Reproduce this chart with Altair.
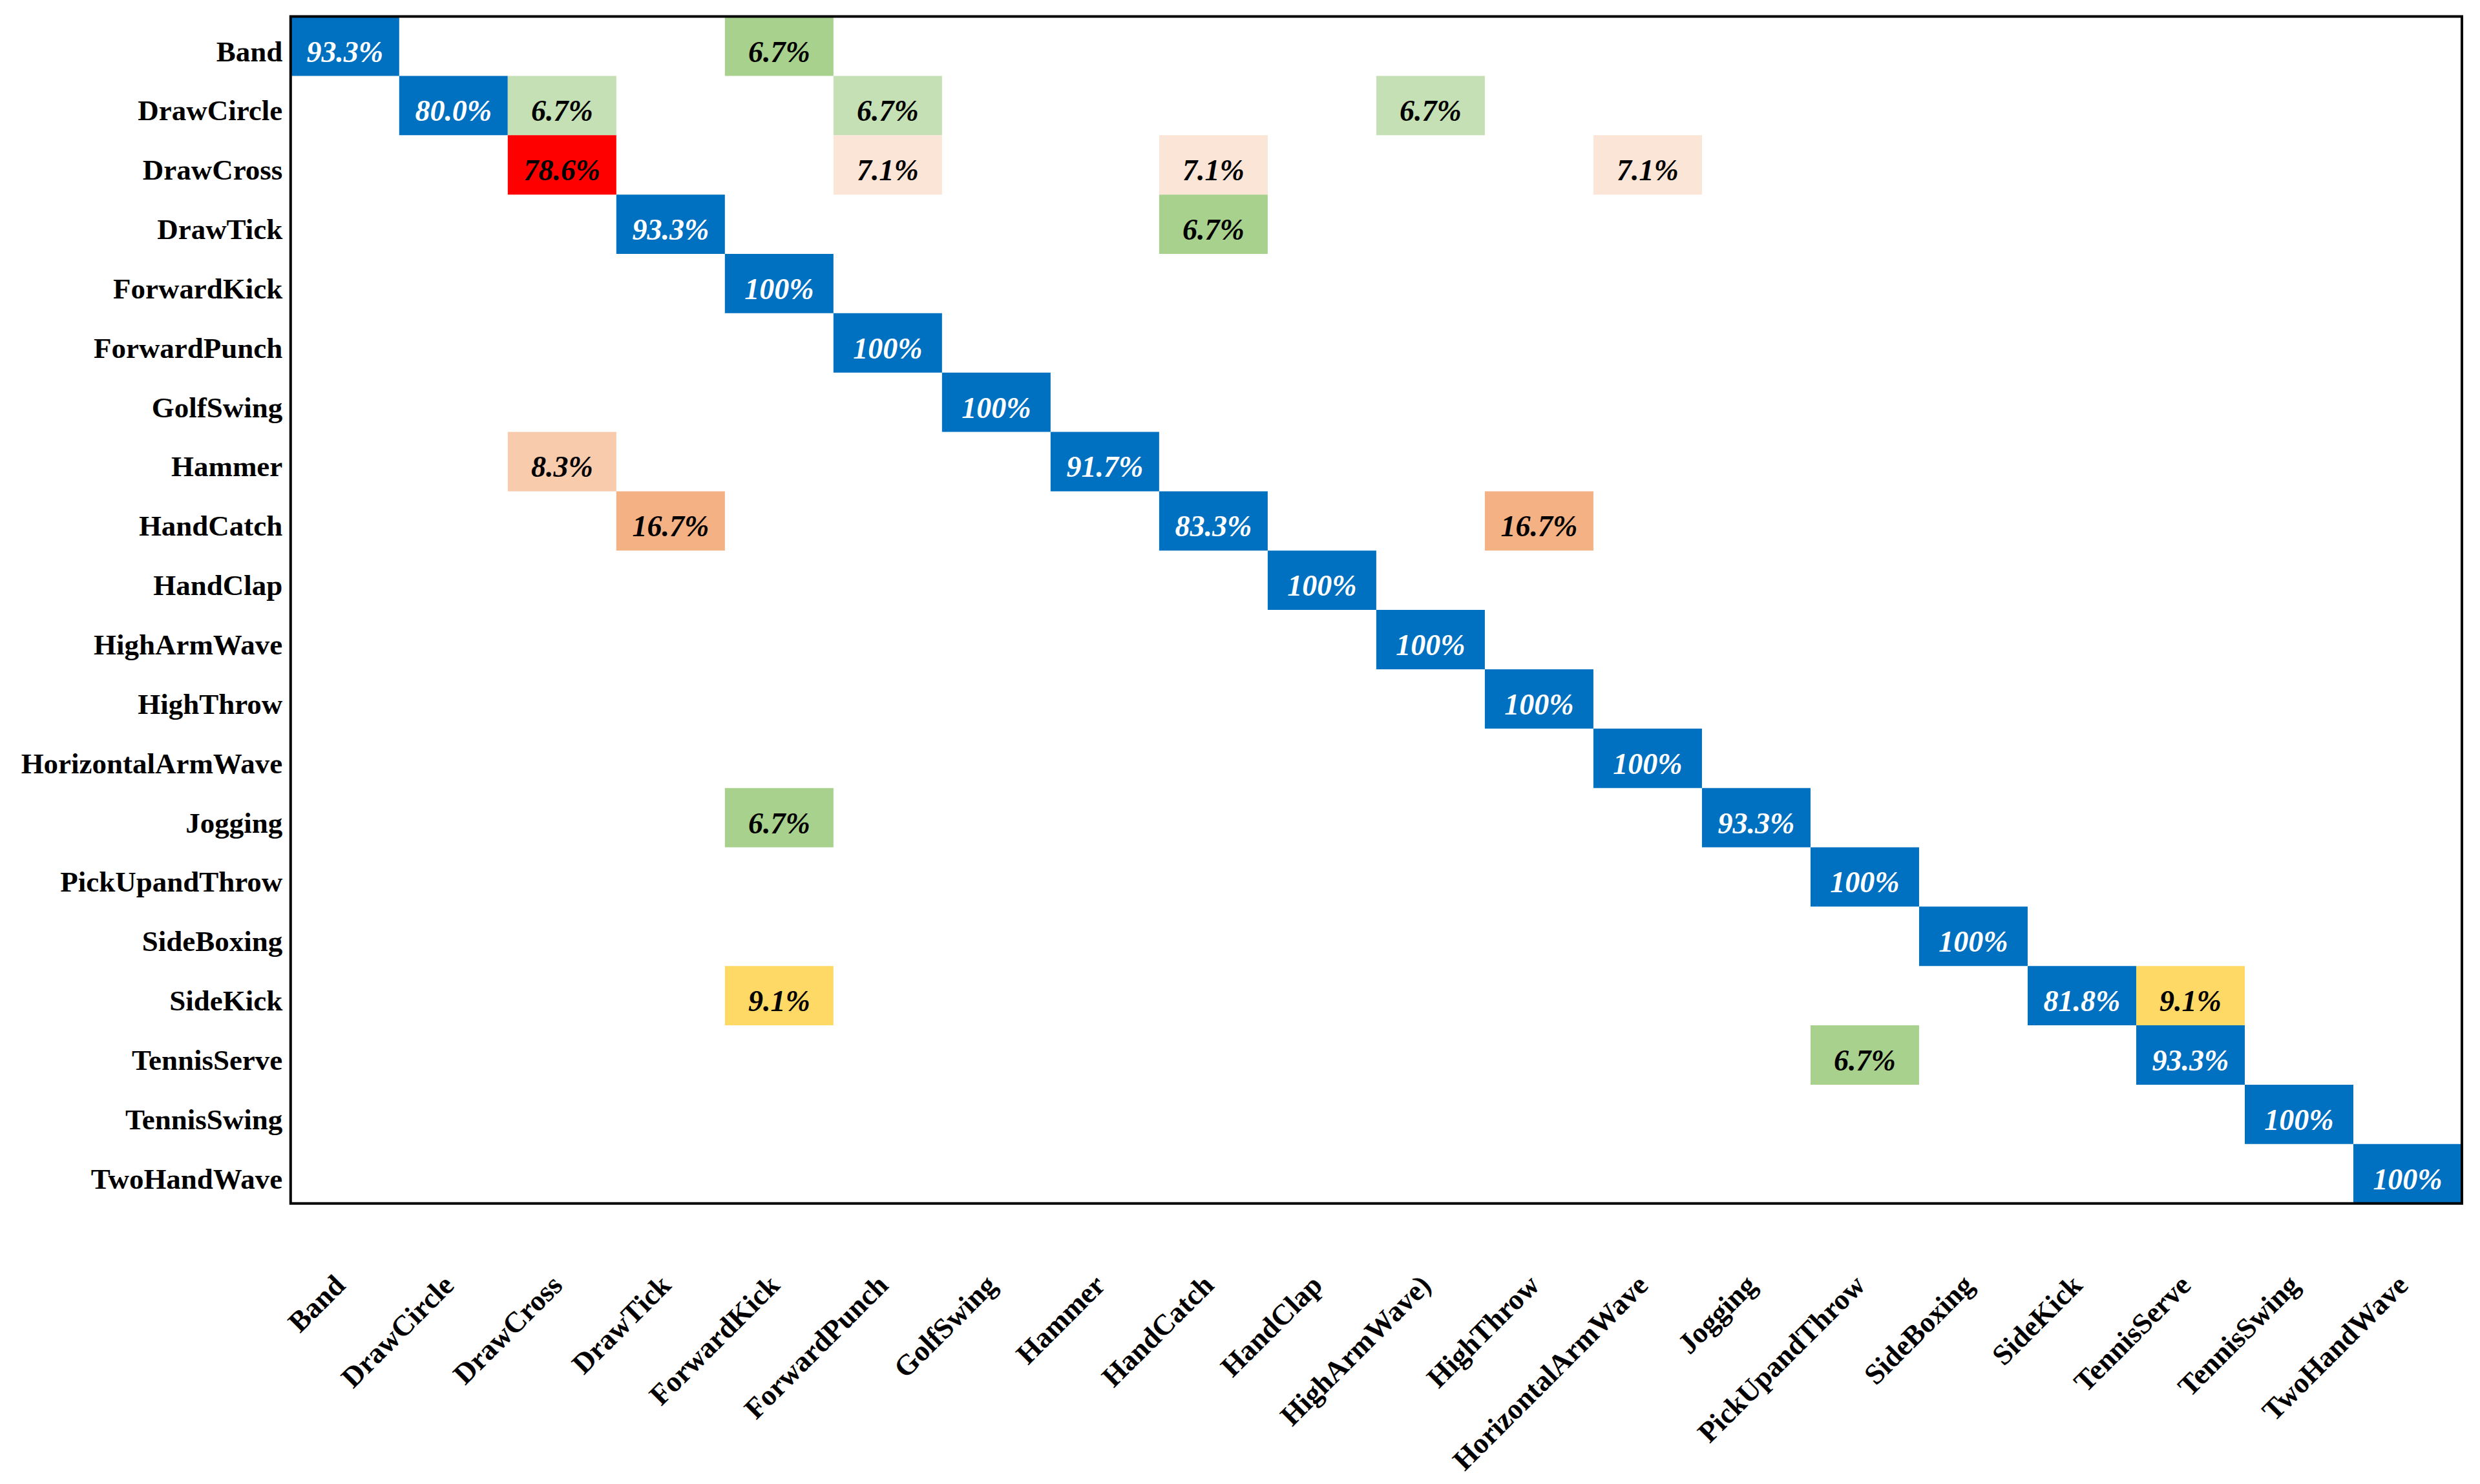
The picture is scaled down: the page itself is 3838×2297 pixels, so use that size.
import altair as alt
import pandas as pd

row_labels = ["Band", "DrawCircle", "DrawCross", "DrawTick", "ForwardKick", "ForwardPunch",
              "GolfSwing", "Hammer", "HandCatch", "HandClap", "HighArmWave", "HighThrow",
              "HorizontalArmWave", "Jogging", "PickUpandThrow", "SideBoxing", "SideKick",
              "TennisServe", "TennisSwing", "TwoHandWave"]
col_labels = ["Band", "DrawCircle", "DrawCross", "DrawTick", "ForwardKick", "ForwardPunch",
              "GolfSwing", "Hammer", "HandCatch", "HandClap", "HighArmWave)", "HighThrow",
              "HorizontalArmWave", "Jogging", "PickUpandThrow", "SideBoxing", "SideKick",
              "TennisServe", "TennisSwing", "TwoHandWave"]

BLUE, RED = "#0070C0", "#FF0000"
G_DARK, G_LIGHT = "#A9D18E", "#C5E0B4"
P_LIGHT, P_MID, P_DARK = "#FBE5D6", "#F8CBAD", "#F4B183"
YELLOW = "#FFD966"

cell_row = [0, 0,
            1, 1, 1, 1,
            2, 2, 2, 2,
            3, 3,
            4, 5, 6,
            7, 7,
            8, 8, 8,
            9, 10, 11, 12,
            13, 13,
            14, 15,
            16, 16, 16,
            17, 17,
            18, 19]
cell_col = [0, 4,
            1, 2, 5, 10,
            2, 5, 8, 12,
            3, 8,
            4, 5, 6,
            2, 7,
            3, 8, 11,
            9, 10, 11, 12,
            4, 13,
            14, 15,
            4, 16, 17,
            14, 17,
            18, 19]
cell_text = ["93.3%", "6.7%",
             "80.0%", "6.7%", "6.7%", "6.7%",
             "78.6%", "7.1%", "7.1%", "7.1%",
             "93.3%", "6.7%",
             "100%", "100%", "100%",
             "8.3%", "91.7%",
             "16.7%", "83.3%", "16.7%",
             "100%", "100%", "100%", "100%",
             "6.7%", "93.3%",
             "100%", "100%",
             "9.1%", "81.8%", "9.1%",
             "6.7%", "93.3%",
             "100%", "100%"]
cell_fill = [BLUE, G_DARK,
             BLUE, G_LIGHT, G_LIGHT, G_LIGHT,
             RED, P_LIGHT, P_LIGHT, P_LIGHT,
             BLUE, G_DARK,
             BLUE, BLUE, BLUE,
             P_MID, BLUE,
             P_DARK, BLUE, P_DARK,
             BLUE, BLUE, BLUE, BLUE,
             G_DARK, BLUE,
             BLUE, BLUE,
             YELLOW, BLUE, YELLOW,
             G_DARK, BLUE,
             BLUE, BLUE]

df = pd.DataFrame({
    "actual": [row_labels[i] for i in cell_row],
    "predicted": [col_labels[j] for j in cell_col],
    "label": cell_text,
    "fill": cell_fill,
    "textcolor": ["#FFFFFF" if f == BLUE else "#000000" for f in cell_fill],
})

FONT = "Liberation Serif"
W, H = 3362, 1838

x_enc = alt.X("predicted:N", sort=col_labels,
              scale=alt.Scale(domain=col_labels, paddingInner=0, paddingOuter=0),
              axis=alt.Axis(title=None, labelAngle=-45, labelAlign="right",
                            labelBaseline="alphabetic",
                            labelFont=FONT, labelFontSize=45, labelFontWeight="bold",
                            labelColor="#000000", labelOffset=3,
                            ticks=False, domain=False, labelPadding=129, labelOverlap=False,
                            labelLimit=0))
y_enc = alt.Y("actual:N", sort=row_labels,
              scale=alt.Scale(domain=row_labels, paddingInner=0, paddingOuter=0),
              axis=alt.Axis(title=None, labelFont=FONT, labelFontSize=45, labelFontWeight="bold",
                            labelColor="#000000", ticks=False, domain=False, labelPadding=13,
                            labelOffset=9, labelOverlap=False, labelLimit=0))

rects = alt.Chart(df).mark_rect().encode(
    x=x_enc, y=y_enc, fill=alt.Fill("fill:N", scale=None)
)
texts = alt.Chart(df).mark_text(font=FONT, fontSize=46, fontWeight="bold", fontStyle="italic",
                                baseline="middle", align="center", dy=10).encode(
    x=x_enc, y=y_enc, text="label:N", color=alt.Color("textcolor:N", scale=None)
)
frame = alt.Chart(pd.DataFrame({"frame": [0]})).mark_rect(
    fillOpacity=0, stroke="#000000", strokeWidth=4
).encode(x=alt.value(0), x2=alt.value(W), y=alt.value(0), y2=alt.value(H))

chart = alt.layer(rects, texts, frame).properties(
    width=W, height=H,
    autosize=alt.AutoSizeParams(type="none"),
    padding={"left": 442, "top": 17, "right": 20, "bottom": 432},
    background="#FFFFFF",
).configure_view(stroke=None)

chart.save("out.html", embed_options={"renderer": "svg", "actions": False})
